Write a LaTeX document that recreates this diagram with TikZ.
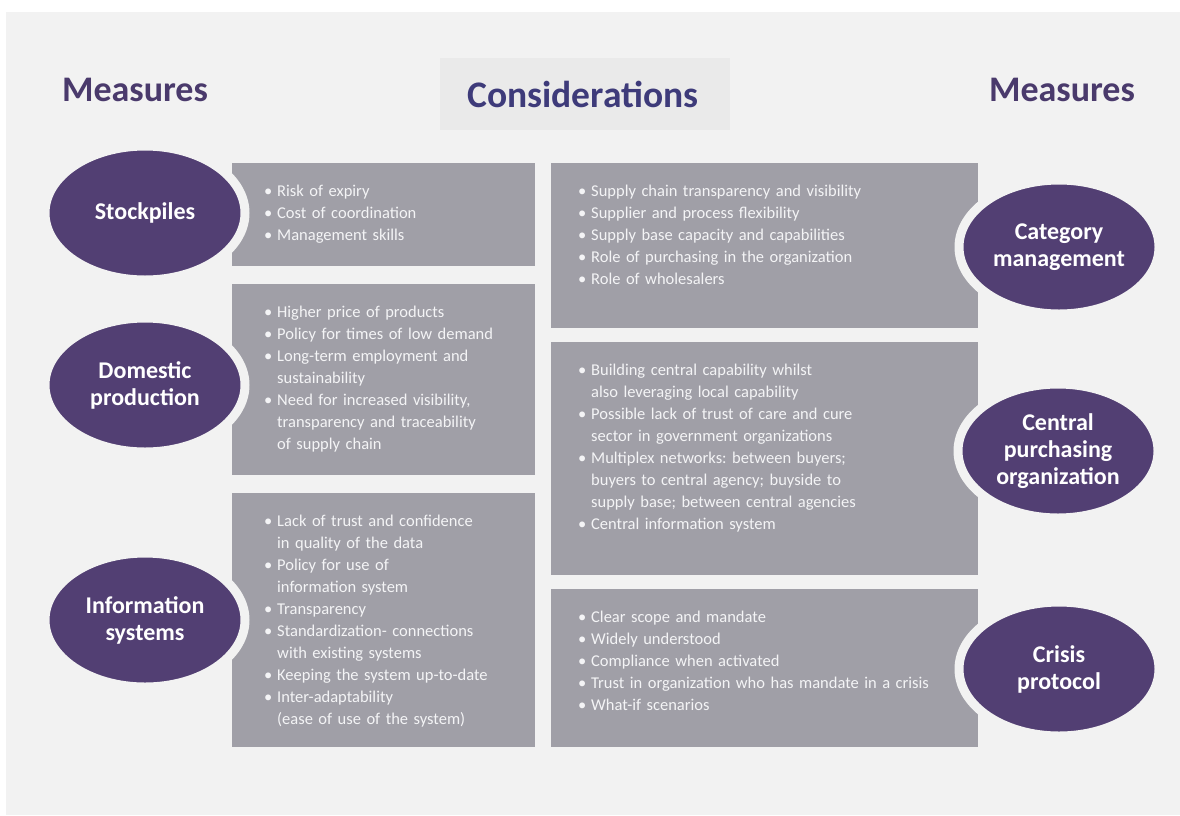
\documentclass[tikz,border=0pt]{standalone}
\usepackage{fontspec}
\setmainfont{Carlito}
\usetikzlibrary{shapes.geometric}
\frenchspacing

\definecolor{bggray}{HTML}{F2F2F2}
\definecolor{titlegray}{HTML}{EAEAEA}
\definecolor{boxgray}{HTML}{A09FA7}
\definecolor{measpurple}{HTML}{523F73}
\definecolor{headpurple}{HTML}{4A3A6C}
\definecolor{titleblue}{HTML}{3E3B7A}
\definecolor{textwhite}{HTML}{F4F4F6}

% One bullet line, later lines of the item hang under the text
\newcommand{\bitem}{\par\noindent\hangindent=13pt\hangafter=1\strut\makebox[13pt][l]{\textbullet}}

\begin{document}
\begin{tikzpicture}[x=1pt,y=-1pt,
  heading/.style={text=headpurple, font=\fontsize{36}{40}\selectfont\bfseries},
  measure/.style={ellipse, fill=measpurple, draw=bggray, line width=9pt,
    minimum width=200pt, minimum height=134pt, inner sep=0pt, align=center,
    text=white, font=\fontsize{24}{27}\selectfont\bfseries},
  considbox/.style={fill=boxgray, anchor=north west, inner sep=0pt},
  considtext/.style={anchor=north west, inner sep=0pt,
    text=textwhite, font=\fontsize{16.5}{22}\selectfont}]

% Page and background
\useasboundingbox (0,0) rectangle (1180,815);
\fill[white] (0,0) rectangle (1180,815);
\fill[bggray] (6,12) rectangle (1180,815);

% Headings
\node[fill=titlegray, minimum width=290pt, minimum height=72pt, inner sep=0pt] (title-box) at (585,94) {};
\node[text=titleblue, font=\fontsize{37.5}{42}\selectfont\bfseries] (title) at (583,94) {Considerations};
\node[heading] (meas-left)  at (135,90) {Measures};
\node[heading] (meas-right) at (1062,90) {Measures};

% Left boxes
\node[considbox, minimum width=303pt, minimum height=103pt] (box-stock) at (232,163) {};
\node[considbox, minimum width=303pt, minimum height=191pt] (box-dom)   at (232,284) {};
\node[considbox, minimum width=303pt, minimum height=254pt] (box-info)  at (232,493) {};

\node[considtext, text width=265pt] (txt-stock) at ([shift={(32,11)}]box-stock.north west) {%
  \bitem Risk of expiry
  \bitem Cost of coordination
  \bitem Management skills\par};
\node[considtext, text width=265pt] (txt-dom) at ([shift={(32,11)}]box-dom.north west) {%
  \bitem Higher price of products
  \bitem Policy for times of low demand
  \bitem Long-term employment and\newline sustainability
  \bitem Need for increased visibility,\newline transparency and traceability\newline of supply chain\par};
\node[considtext, text width=265pt] (txt-info) at ([shift={(32,11)}]box-info.north west) {%
  \bitem Lack of trust and confidence\newline in quality of the data
  \bitem Policy for use of\newline information system
  \bitem Transparency
  \bitem Standardization- connections\newline with existing systems
  \bitem Keeping the system up-to-date
  \bitem Inter-adaptability\newline (ease of use of the system)\par};

% Right boxes
\node[considbox, minimum width=427pt, minimum height=165pt] (box-cat)    at (551,163) {};
\node[considbox, minimum width=427pt, minimum height=233pt] (box-cpo)    at (551,342) {};
\node[considbox, minimum width=427pt, minimum height=158pt] (box-crisis) at (551,589) {};

\node[considtext, text width=390pt] (txt-cat) at ([shift={(27,11)}]box-cat.north west) {%
  \bitem Supply chain transparency and visibility
  \bitem Supplier and process flexibility
  \bitem Supply base capacity and capabilities
  \bitem Role of purchasing in the organization
  \bitem Role of wholesalers\par};
\node[considtext, text width=390pt] (txt-cpo) at ([shift={(27,11)}]box-cpo.north west) {%
  \bitem Building central capability whilst\newline also leveraging local capability
  \bitem Possible lack of trust of care and cure\newline sector in government organizations
  \bitem Multiplex networks: between buyers;\newline buyers to central agency; buyside to\newline supply base; between central agencies
  \bitem Central information system\par};
\node[considtext, text width=390pt] (txt-crisis) at ([shift={(27,11)}]box-crisis.north west) {%
  \bitem Clear scope and mandate
  \bitem Widely understood
  \bitem Compliance when activated
  \bitem Trust in organization who has mandate in a crisis
  \bitem What-if scenarios\par};

% Measures
\node[measure] (stockpiles) at (145,213) {Stockpiles};
\node[measure] (domestic)   at (145,385) {Domestic\\ production};
\node[measure] (info)       at (145,620) {Information\\ systems};
\node[measure] (category)   at (1059,247) {Category\\ management};
\node[measure] (central)    at (1058,451) {Central\\ purchasing\\ organization};
\node[measure] (crisis)     at (1059,669) {Crisis\\ protocol};

\end{tikzpicture}
\end{document}
